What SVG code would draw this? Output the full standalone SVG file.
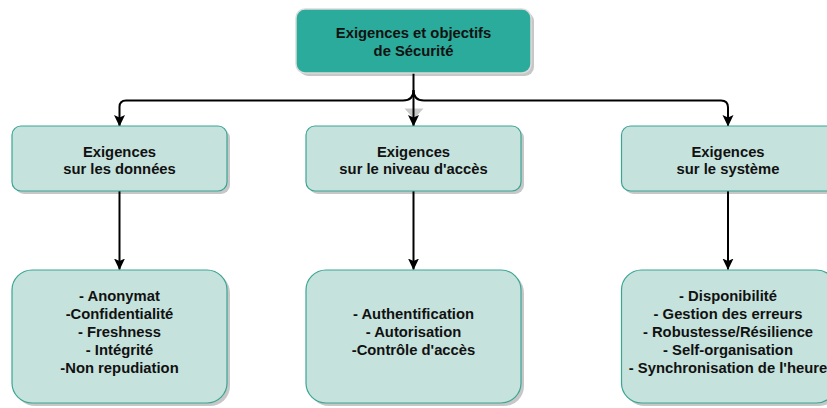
<svg xmlns="http://www.w3.org/2000/svg" width="827" height="408" viewBox="0 0 827 408">
  <style>
    .shadow { fill: #000; opacity: 0.22; }
    .root { fill: #2aab9b; stroke: #dcdcdc; stroke-width: 1.5; }
    .box { fill: #c5e2dc; stroke: #3aa595; stroke-width: 1.2; }
    .label { font-family: "Liberation Sans", Arial, sans-serif; font-weight: bold; font-size: 14.8px; fill: #111; text-anchor: middle; }
    .edge { fill: none; stroke: #000; stroke-width: 2; }
  </style>
  <defs>
    <marker id="arrow" viewBox="0 0 12 12" refX="11" refY="6" markerWidth="12" markerHeight="12" markerUnits="userSpaceOnUse" orient="auto">
      <path d="M0,0.5 L11.5,6 L0,11.5 L2.5,6 Z" fill="#000"/>
    </marker>
  </defs>

  <!-- connectors -->
  <g id="connectors">
    <polygon points="404.5,108.5 423.5,108.5 414,119" fill="#c9c9c9"/>
    <path class="edge" d="M413.5,73 L413.5,126" marker-end="url(#arrow)"/>
    <path class="edge" d="M413.5,90 Q413.5,100.5 403,100.5 L126,100.5 Q119.5,100.5 119.5,107 L119.5,126" marker-end="url(#arrow)"/>
    <path class="edge" d="M413.5,90 Q413.5,100.5 424,100.5 L721,100.5 Q728,100.5 728,107.5 L728,126" marker-end="url(#arrow)"/>
    <path class="edge" d="M119.5,191 L119.5,269.5" marker-end="url(#arrow)"/>
    <path class="edge" d="M413.5,191 L413.5,269.5" marker-end="url(#arrow)"/>
    <path class="edge" d="M728,191 L728,269.5" marker-end="url(#arrow)"/>
  </g>

  <!-- top node -->
  <g id="root-node">
    <rect class="shadow" x="299" y="12" width="235" height="64" rx="9"/>
    <rect class="root" x="296" y="9" width="235" height="64" rx="9"/>
    <text class="label" x="413.5" y="38.3">Exigences et objectifs</text>
    <text class="label" x="413.5" y="56.1">de Sécurité</text>
  </g>

  <!-- middle row -->
  <g id="data-req">
    <rect class="shadow" x="15" y="129" width="215" height="65" rx="9"/>
    <rect class="box" x="12" y="126" width="215" height="65" rx="9"/>
    <text class="label" x="119.5" y="156.5">Exigences</text>
    <text class="label" x="119.5" y="174.3">sur les données</text>
  </g>
  <g id="access-req">
    <rect class="shadow" x="309" y="129" width="215" height="65" rx="9"/>
    <rect class="box" x="306" y="126" width="215" height="65" rx="9"/>
    <text class="label" x="413.5" y="156.5">Exigences</text>
    <text class="label" x="413.5" y="174.3">sur le niveau d'accès</text>
  </g>
  <g id="system-req">
    <rect class="shadow" x="624.5" y="129" width="215" height="65" rx="9"/>
    <rect class="box" x="621.5" y="126" width="215" height="65" rx="9"/>
    <text class="label" x="728" y="156.5">Exigences</text>
    <text class="label" x="728" y="174.3">sur le système</text>
  </g>

  <!-- bottom row -->
  <g id="data-list">
    <rect class="shadow" x="15" y="273" width="215" height="133" rx="20"/>
    <rect class="box" x="12" y="270" width="215" height="133" rx="20"/>
    <text class="label" x="119.5" y="301">- Anonymat</text>
    <text class="label" x="119.5" y="318.9">-Confidentialité</text>
    <text class="label" x="119.5" y="336.8">- Freshness</text>
    <text class="label" x="119.5" y="354.7">- Intégrité</text>
    <text class="label" x="119.5" y="372.6">-Non repudiation</text>
  </g>
  <g id="access-list">
    <rect class="shadow" x="309" y="273" width="215" height="133" rx="20"/>
    <rect class="box" x="306" y="270" width="215" height="133" rx="20"/>
    <text class="label" x="413.5" y="319.3">- Authentification</text>
    <text class="label" x="413.5" y="337.2">- Autorisation</text>
    <text class="label" x="413.5" y="355.1">-Contrôle d'accès</text>
  </g>
  <g id="system-list">
    <rect class="shadow" x="624.5" y="273" width="215" height="133" rx="20"/>
    <rect class="box" x="621.5" y="270" width="215" height="133" rx="20"/>
    <text class="label" x="728" y="301">- Disponibilité</text>
    <text class="label" x="728" y="318.9">- Gestion des erreurs</text>
    <text class="label" x="728" y="336.8">- Robustesse/Résilience</text>
    <text class="label" x="728" y="354.7">- Self-organisation</text>
    <text class="label" x="728" y="372.6">- Synchronisation de l'heure</text>
  </g>
</svg>
